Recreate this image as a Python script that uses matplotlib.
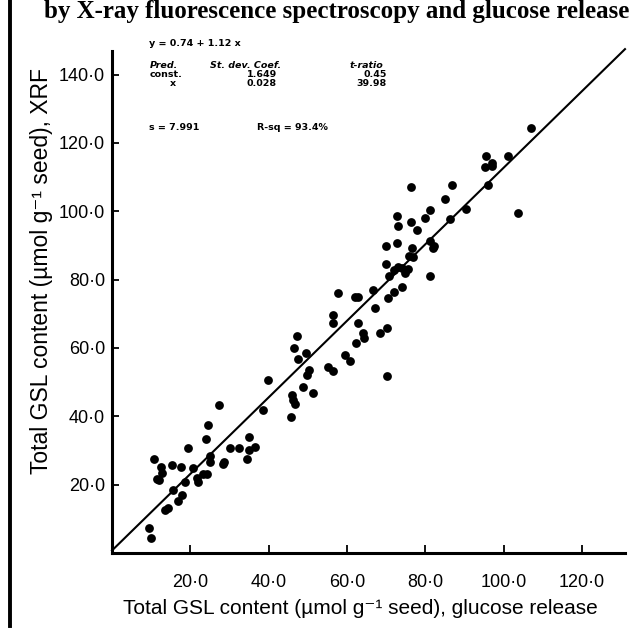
import matplotlib.pyplot as plt
from matplotlib.lines import Line2D

# total GSL content, umol g-1 seed: glucose release (x) vs XRF (y)
glucose = [9.5, 9.9, 10.7, 11.5, 12.1, 12.4, 12.7, 15.4, 17.6, 19.5,
           15.5, 13.5, 14.4, 16.9, 17.8, 18.6, 20.6, 21.6, 22.0, 23.3,
           24.2, 24.0, 24.6, 25.0, 25.0, 27.4, 30.1, 32.5, 35.1, 36.5,
           35.1, 34.4, 28.6, 28.4, 38.6, 45.6, 39.9, 45.9, 46.3, 46.7,
           48.7, 51.2, 47.4, 46.6, 47.2, 49.6, 49.7, 50.4, 55.2, 56.5,
           56.4, 56.4, 57.8, 59.5, 60.8, 62.3, 62.1, 62.9, 62.8, 64.2,
           64.4, 66.7, 67.2, 68.5, 70.3, 70.3, 70.6, 71.9, 74.0, 95.4,
           101.2, 95.3, 97.1, 97.0, 95.9, 76.3, 86.8, 85.1, 90.4, 103.8,
           81.2, 72.7, 73.1, 76.3, 79.9, 77.8, 86.2, 70.0, 72.7, 76.6,
           81.2, 81.9, 82.2, 81.2, 70.0, 75.9, 76.8, 71.9, 73.1, 74.0,
           74.8, 75.7, 70.8, 106.9]
xrf = [7.2, 4.5, 27.4, 21.7, 21.4, 25.1, 23.3, 25.8, 25.1, 30.6,
       18.4, 12.6, 13.3, 15.3, 17.0, 20.9, 24.8, 21.9, 20.9, 23.1,
       23.1, 33.3, 37.5, 28.4, 26.7, 43.3, 30.6, 30.6, 34.0, 31.1,
       30.1, 27.4, 26.7, 26.0, 41.8, 39.7, 50.6, 46.2, 44.8, 43.6,
       48.7, 46.7, 56.7, 60.1, 63.5, 58.6, 52.1, 53.6, 54.5, 53.4,
       69.7, 67.2, 76.2, 57.9, 56.3, 61.5, 75.0, 74.8, 67.2, 64.3,
       62.8, 77.0, 71.6, 64.5, 65.9, 51.8, 74.5, 76.5, 77.9, 116.3,
       116.2, 113.1, 114.2, 113.3, 107.7, 107.2, 107.7, 103.5, 100.6, 99.4,
       100.4, 98.6, 95.7, 97.0, 98.1, 94.5, 97.7, 89.8, 90.6, 89.2,
       91.4, 89.2, 89.8, 81.1, 84.6, 86.9, 86.7, 82.8, 83.8, 83.3,
       81.9, 83.0, 81.1, 124.4]

# fitted line y = 0.74 + 1.12 x
intercept = 0.74
slope = 1.12
line_x = [0, 131]

x_ticks = [20, 40, 60, 80, 100, 120]
y_ticks = [20, 40, 60, 80, 100, 120, 140]

W, H = 644, 629
fig = plt.figure(figsize=(W / 100, H / 100), dpi=100)
fam = ['Liberation Sans', 'DejaVu Sans']

# axes box, placed in pixels
ax = fig.add_axes([112 / W, 76 / H, (625 - 112) / W, (553 - 50.7) / H])
ax.set_xlim(0, 131)
ax.set_ylim(0, 147)

ax.scatter(glucose, xrf, s=40, color='black', linewidths=0, zorder=3)
ax.plot(line_x, [intercept + slope * v for v in line_x], color='black', lw=1.5, clip_on=False)

for side in ['top', 'right']:
    ax.spines[side].set_visible(False)
for side in ['left', 'bottom']:
    ax.spines[side].set_linewidth(2.2)

ax.set_xticks(x_ticks)
ax.set_yticks(y_ticks)
ax.set_xticklabels([f"{t}\u00b70" for t in x_ticks], family=fam, fontsize=13)
ax.set_yticklabels([f"{t}\u00b70" for t in y_ticks], family=fam, fontsize=13)
ax.tick_params(axis='x', direction='in', length=6, width=1.3, pad=15)
ax.tick_params(axis='y', direction='in', length=5, width=1.3, pad=5)

fig.text(360 / W, 1 - 609 / H, "Total GSL content (\u00b5mol g\u207b\u00b9 seed), glucose release",
         family=fam, fontsize=15, ha='center', va='center')
fig.text(42 / W, 1 - 271 / H, "Total GSL content (\u00b5mol g\u207b\u00b9 seed), XRF",
         family=fam, fontsize=16.5, ha='center', va='center', rotation=90)

# regression printout
mono = dict(family='DejaVu Sans', fontsize=6.8, fontweight='bold', va='center')
fig.text(149 / W, 1 - 43 / H, "y = 0.74 + 1.12 x", **mono)
fig.text(150 / W, 1 - 66 / H, "Pred.", style='italic', **mono)
fig.text(210 / W, 1 - 66 / H, "St. dev. Coef.", style='italic', **mono)
fig.text(350 / W, 1 - 66 / H, "t-ratio", style='italic', **mono)
fig.text(150 / W, 1 - 74.5 / H, "const.", **mono)
fig.text(247 / W, 1 - 74.5 / H, "1.649", **mono)
fig.text(387 / W, 1 - 74.5 / H, "0.45", ha='right', **mono)
fig.text(170 / W, 1 - 83 / H, "x", **mono)
fig.text(247 / W, 1 - 83 / H, "0.028", **mono)
fig.text(387 / W, 1 - 83 / H, "39.98", ha='right', **mono)
fig.text(149 / W, 1 - 127 / H, "s = 7.991", **mono)
fig.text(257 / W, 1 - 127 / H, "R-sq = 93.4%", **mono)

# page header and left border from the scan
fig.text(44 / W, 1 - 18 / H, "by X-ray fluorescence spectroscopy and glucose release",
         family='Liberation Serif', fontweight='bold', fontsize=18, va='baseline')
fig.add_artist(Line2D([10 / W, 10 / W], [0.005, 1.0], color='black', lw=2.8))

fig.savefig("out.png", dpi=100)
